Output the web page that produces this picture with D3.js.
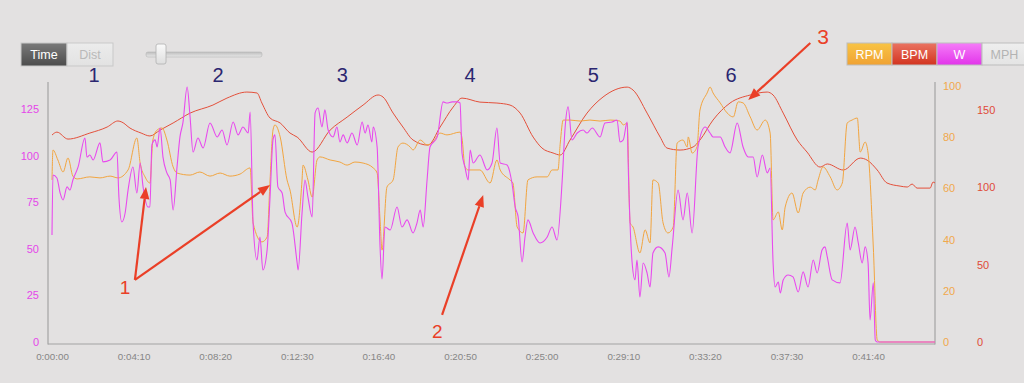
<!DOCTYPE html>
<html><head><meta charset="utf-8">
<script src="https://cdn.jsdelivr.net/npm/d3@7"></script>
<style>
html,body{margin:0;padding:0;background:#e3e1e1;}
svg{display:block;font-family:"Liberation Sans",Arial,Helvetica,sans-serif;}
</style></head><body>
<svg id="c" width="1024" height="383"></svg>
<script>
// ---- data ----
const xTickValues = [0,250,500,750,1000,1250,1500,1750,2000,2250,2500];
const xTickLabels = ["0:00:00","0:04:10","0:08:20","0:12:30","0:16:40","0:20:50","0:25:00","0:29:10","0:33:20","0:37:30","0:41:40"];
const wTicks = [0,25,50,75,100,125];
const rpmTicks = [0,20,40,60,80,100];
const bpmTicks = [0,50,100,150];
const lapLabels = ["1","2","3","4","5","6"];
const lapTimes = [129,509,889,1281,1658,2080];
const legendLabels = ["RPM","BPM","W","MPH"];
const modeLabels = ["Time","Dist"];

// [seconds, bpm]
const bpmSeries = [[0,133.8],[15,135.7],[49,131.2],[116,135.1],[169,139.0],[202,142.9],[214,142.2],[239,138.3],[273,135.1],[300,133.2],[331,137.0],[371,141.6],[423,148.0],[493,153.2],[536,157.7],[597,161.6],[628,161.0],[643,154.5],[668,144.8],[699,141.6],[729,135.1],[751,132.5],[797,122.8],[852,137.0],[904,145.4],[953,153.2],[999,159.7],[1014,158.4],[1045,148.0],[1075,139.0],[1106,130.6],[1152,127.3],[1189,139.0],[1229,151.9],[1256,157.7],[1311,155.1],[1363,154.5],[1403,153.2],[1434,148.0],[1474,132.5],[1501,125.4],[1535,122.2],[1557,120.9],[1587,130.6],[1639,148.0],[1688,158.4],[1762,164.8],[1780,162.9],[1823,148.0],[1863,132.5],[1884,125.4],[1924,124.1],[1964,126.1],[1985,130.6],[2025,143.5],[2077,154.5],[2139,159.7],[2191,161.6],[2209,159.7],[2240,148.0],[2283,130.6],[2313,122.8],[2353,113.1],[2375,115.1],[2424,111.2],[2476,118.9],[2497,117.6],[2528,111.2],[2558,102.8],[2598,100.8],[2620,100.2],[2635,102.1],[2650,99.5],[2690,99.5],[2699,103.4],[2705,102.8]];

// [seconds, rpm]
const rpmSeries = [[0,63.3],[3,75.0],[18,71.1],[34,66.4],[49,71.9],[64,64.8],[77,63.7],[116,64.5],[147,64.1],[178,64.8],[202,64.1],[233,67.2],[260,79.7],[270,69.9],[285,64.5],[300,62.1],[309,78.9],[322,82.8],[337,83.6],[352,78.9],[371,68.4],[383,66.0],[423,65.2],[453,66.4],[484,64.8],[515,66.0],[545,64.8],[576,65.6],[607,68.0],[616,46.5],[643,39.1],[659,41.0],[668,63.3],[677,82.8],[683,84.8],[699,80.1],[720,63.3],[729,59.4],[751,44.9],[766,63.3],[769,69.1],[784,63.3],[797,56.6],[812,71.1],[821,72.3],[852,71.1],[882,70.3],[904,69.1],[928,70.3],[953,69.9],[984,68.0],[996,66.0],[1005,47.7],[1011,35.9],[1026,60.5],[1045,63.3],[1060,76.2],[1075,77.7],[1097,76.2],[1106,75.0],[1128,78.9],[1149,77.0],[1167,78.1],[1189,81.6],[1210,80.9],[1250,82.0],[1256,79.7],[1265,68.4],[1275,67.2],[1311,67.2],[1342,62.1],[1363,71.1],[1373,67.2],[1403,63.3],[1412,62.1],[1425,44.9],[1443,42.6],[1458,63.3],[1486,64.5],[1517,64.5],[1532,67.2],[1550,67.2],[1557,77.7],[1566,86.7],[1587,86.7],[1618,86.3],[1648,86.7],[1679,86.3],[1710,86.7],[1740,86.3],[1750,84.8],[1762,85.5],[1771,46.5],[1780,44.9],[1801,34.8],[1817,43.8],[1832,38.7],[1841,63.3],[1857,62.1],[1872,46.5],[1887,42.6],[1903,44.9],[1915,77.7],[1933,78.9],[1946,76.2],[1949,80.1],[1961,73.8],[1976,76.2],[1985,90.6],[2007,97.3],[2016,99.6],[2025,97.3],[2047,93.4],[2068,89.5],[2087,87.9],[2102,93.8],[2117,93.4],[2139,87.9],[2160,82.8],[2185,86.7],[2200,81.6],[2209,47.7],[2225,50.8],[2237,43.8],[2246,52.7],[2267,58.2],[2286,50.4],[2301,58.2],[2323,60.5],[2338,59.4],[2347,63.3],[2362,68.4],[2384,64.5],[2405,59.4],[2421,62.1],[2436,85.5],[2451,86.7],[2467,87.5],[2476,74.2],[2491,78.1],[2500,73.8],[2516,37.1],[2528,0.8],[2537,0],[2705,0]];

// [seconds, watts]
const wSeries = [[0,57.4],[3,89.6],[15,88.0],[25,79.9],[34,76.2],[46,83.2],[55,81.5],[64,86.9],[80,93.9],[101,109.4],[107,99.2],[116,100.3],[126,97.6],[147,106.8],[156,96.6],[178,97.6],[199,101.9],[205,77.8],[214,64.4],[224,69.2],[233,81.5],[248,93.9],[260,79.9],[270,96.0],[279,83.2],[294,72.4],[300,72.4],[306,105.7],[316,108.4],[322,104.6],[331,114.8],[340,99.2],[352,90.7],[362,86.9],[371,70.8],[383,93.9],[392,110.0],[401,117.5],[414,136.8],[423,120.7],[432,101.9],[447,109.4],[463,104.1],[484,117.5],[506,110.0],[521,113.7],[536,105.7],[555,118.0],[570,111.1],[585,115.3],[601,112.1],[607,123.4],[616,63.8],[628,44.0],[637,56.3],[646,38.6],[659,49.4],[668,77.8],[677,108.4],[683,111.1],[692,83.2],[705,79.9],[714,69.7],[735,63.8],[751,42.4],[754,38.6],[766,69.2],[775,86.9],[784,77.8],[797,67.1],[806,122.9],[815,125.5],[827,115.3],[836,124.5],[846,113.7],[861,110.0],[873,115.3],[882,107.3],[892,111.1],[904,106.8],[919,112.1],[935,105.7],[950,118.0],[959,112.1],[968,116.4],[980,107.3],[984,115.3],[996,104.6],[1005,51.0],[1011,33.8],[1020,61.7],[1036,60.1],[1057,72.4],[1072,61.7],[1088,65.5],[1106,58.5],[1118,63.8],[1128,70.8],[1137,61.7],[1149,86.9],[1158,104.6],[1180,110.0],[1198,128.8],[1210,128.2],[1226,128.8],[1241,128.8],[1250,128.2],[1256,101.4],[1265,93.9],[1275,86.9],[1281,103.0],[1290,96.0],[1311,100.3],[1333,92.3],[1348,96.0],[1363,114.8],[1373,96.0],[1394,95.0],[1409,85.3],[1419,72.4],[1428,67.1],[1440,42.9],[1449,56.3],[1458,65.5],[1474,58.5],[1495,53.1],[1517,56.3],[1532,61.7],[1547,54.7],[1563,86.9],[1572,115.3],[1581,126.1],[1593,108.4],[1609,112.1],[1627,113.7],[1639,112.1],[1655,114.8],[1679,110.0],[1694,117.5],[1716,118.0],[1731,119.1],[1740,107.3],[1750,108.4],[1762,118.0],[1765,96.0],[1777,42.9],[1786,33.3],[1792,44.0],[1801,24.1],[1811,42.4],[1823,37.0],[1832,29.5],[1841,47.7],[1857,51.0],[1878,47.7],[1890,34.9],[1900,51.0],[1918,81.5],[1933,65.5],[1946,79.9],[1961,58.5],[1979,104.6],[2001,115.3],[2016,112.1],[2025,110.0],[2047,110.0],[2062,104.6],[2077,101.4],[2099,117.5],[2117,104.6],[2133,99.2],[2148,99.2],[2160,88.5],[2176,100.3],[2191,90.7],[2200,93.3],[2209,42.4],[2215,29.5],[2225,32.2],[2231,26.3],[2240,33.3],[2255,35.9],[2270,34.9],[2286,26.8],[2301,37.6],[2316,29.5],[2332,44.0],[2344,37.0],[2359,49.4],[2368,51.0],[2375,45.6],[2390,33.3],[2414,31.7],[2436,63.8],[2445,49.4],[2460,61.7],[2470,53.1],[2482,42.4],[2491,51.0],[2500,42.4],[2506,11.8],[2516,31.7],[2522,1.1],[2528,0],[2705,0]];

// annotations in data units (seconds, watts): label position, arrow start, arrow tips
const noteLabels = ["1","2","3"];
const notePos = [[224,29.5],[1180,5.4],[2362,164]];
const noteArrows = [
  [[254,33.3],[288,83.2]],
  [[254,33.3],[668,84.2]],
  [[1195,14.5],[1321,78.9]],
  [[2323,160.4],[2133,129.8]]
];

// ---- drawing ----
const svg = d3.select("#c");
const W = 1024, H = 383;
const x = d3.scaleLinear().domain([0,2705]).range([52,935]);
const yW = d3.scaleLinear().domain([0,140]).range([342,81]);
const yR = d3.scaleLinear().domain([0,100]).range([342,86]);
const yB = d3.scaleLinear().domain([0,150]).range([342,110]);

const cW = "#e84aee", cR = "#f2a540", cB = "#e4503b";

svg.append("rect").attr("width",W).attr("height",H).attr("fill","#e3e1e1");

const defs = svg.append("defs");
function grad(id, c1, c2){
  const g = defs.append("linearGradient").attr("id",id).attr("x1",0).attr("y1",0).attr("x2",0).attr("y2",1);
  g.append("stop").attr("offset","0%").attr("stop-color",c1);
  g.append("stop").attr("offset","100%").attr("stop-color",c2);
}
grad("gTime","#7a7a7a","#4c4c4c");
grad("gDist","#ececec","#e2e2e2");
grad("gRPM","#f8c445","#f0a233");
grad("gBPM","#ea7462","#d2331f");
grad("gW","#f57cf8","#e234ea");
grad("gMPH","#eeeeee","#e4e4e4");
grad("gThumb","#fafafa","#dedede");
grad("gTrack","#bdbdbd","#e8e8e8");

// frame
const frame = svg.append("g").attr("stroke","#a3a3a3").attr("stroke-width",1.2).attr("fill","none");
frame.append("line").attr("x1",48).attr("x2",48).attr("y1",82).attr("y2",344.5);
frame.append("line").attr("x1",48).attr("x2",935).attr("y1",344).attr("y2",344);
frame.append("line").attr("x1",935).attr("x2",935).attr("y1",82).attr("y2",344.5);

// axes
const gx = svg.append("g").attr("transform","translate(0,344)")
  .call(d3.axisBottom(x).tickValues(xTickValues).tickFormat((d,i)=>xTickLabels[i]).tickSize(0).tickPadding(9));
gx.select(".domain").remove();
gx.selectAll("text").attr("fill","#868686").attr("font-size","9.8px").attr("font-family","Liberation Sans, Arial");

const gyW = svg.append("g").attr("transform","translate(48,0)")
  .call(d3.axisLeft(yW).tickValues(wTicks).tickSize(0).tickPadding(9));
gyW.select(".domain").remove();
gyW.selectAll("text").attr("fill","#e546ea").attr("font-size","11px").attr("font-family","Liberation Sans, Arial");

const gyR = svg.append("g").attr("transform","translate(935,0)")
  .call(d3.axisRight(yR).tickValues(rpmTicks).tickSize(0).tickPadding(8));
gyR.select(".domain").remove();
gyR.selectAll("text").attr("fill","#f1a84c").attr("font-size","11px").attr("font-family","Liberation Sans, Arial");

const gyB = svg.append("g").attr("transform","translate(935,0)")
  .call(d3.axisRight(yB).tickValues(bpmTicks).tickSize(0).tickPadding(42));
gyB.select(".domain").remove();
gyB.selectAll("text").attr("fill","#e04a38").attr("font-size","11px").attr("font-family","Liberation Sans, Arial");

// lines
const lineB = d3.line().x(d=>x(d[0])).y(d=>yB(d[1])).curve(d3.curveMonotoneX);
const lineR = d3.line().x(d=>x(d[0])).y(d=>yR(d[1])).curve(d3.curveMonotoneX);
const lineW = d3.line().x(d=>x(d[0])).y(d=>yW(d[1])).curve(d3.curveMonotoneX);
svg.append("path").datum(bpmSeries).attr("d",lineB).attr("fill","none").attr("stroke",cB).attr("stroke-width",1);
svg.append("path").datum(rpmSeries).attr("d",lineR).attr("fill","none").attr("stroke",cR).attr("stroke-width",1);
svg.append("path").datum(wSeries).attr("d",lineW).attr("fill","none").attr("stroke",cW).attr("stroke-width",1.1);

// lap numbers
svg.append("g").selectAll("text").data(lapLabels).join("text")
  .attr("x",(d,i)=>x(lapTimes[i])).attr("y",82)
  .attr("text-anchor","middle").attr("font-size","20px").attr("fill","#2b2670")
  .text(d=>d);

// annotations
const aCol = "#ea3f27";
const ann = svg.append("g");
noteArrows.forEach(([s,e])=>{
  const x1 = x(s[0]), y1 = yW(s[1]), x2 = x(e[0]), y2 = yW(e[1]);
  const ang = Math.atan2(y2-y1, x2-x1), L = 12, Wd = 4.8;
  const bx = x2 - L*Math.cos(ang), by = y2 - L*Math.sin(ang);
  ann.append("line").attr("x1",x1).attr("y1",y1).attr("x2",bx).attr("y2",by)
    .attr("stroke",aCol).attr("stroke-width",2.2);
  const px = -Math.sin(ang)*Wd, py = Math.cos(ang)*Wd;
  ann.append("path").attr("d",`M${x2},${y2}L${bx+px},${by+py}L${bx-px},${by-py}Z`).attr("fill",aCol);
});
ann.selectAll("text").data(noteLabels).join("text")
  .attr("x",(d,i)=>x(notePos[i][0])).attr("y",(d,i)=>yW(notePos[i][1]))
  .attr("text-anchor","middle").attr("dominant-baseline","central")
  .attr("font-size",(d,i)=> i===2 ? "21px" : "19px").attr("fill",aCol).text(d=>d);

// mode toggle
const modeFills = ["url(#gTime)","url(#gDist)"], modeText = ["#ffffff","#b9b9b9"];
const tg = svg.append("g");
modeLabels.forEach((m,i)=>{
  tg.append("rect").attr("x",21+i*46).attr("y",43).attr("width",46).attr("height",23)
    .attr("fill",modeFills[i]).attr("stroke","#c9c9c9").attr("stroke-width",1);
  tg.append("text").attr("x",44+i*46).attr("y",59).attr("text-anchor","middle")
    .attr("font-size","12.5px").attr("fill",modeText[i]).text(m);
});

// slider
svg.append("rect").attr("x",146).attr("y",52).attr("width",116).attr("height",5).attr("rx",2)
  .attr("fill","url(#gTrack)").attr("stroke","#b5b5b5").attr("stroke-width",0.6);
svg.append("rect").attr("x",156).attr("y",44).attr("width",10).attr("height",20).attr("rx",2)
  .attr("fill","url(#gThumb)").attr("stroke","#b0b0b0").attr("stroke-width",0.8);

// legend buttons
const legFills = ["url(#gRPM)","url(#gBPM)","url(#gW)","url(#gMPH)"];
const legText = ["#ffffff","#ffffff","#ffffff","#b3b3b3"];
const lg = svg.append("g");
legendLabels.forEach((l,i)=>{
  lg.append("rect").attr("x",847+i*45).attr("y",43).attr("width",45).attr("height",22)
    .attr("fill",legFills[i]).attr("stroke","#bdbdbd").attr("stroke-width",1);
  lg.append("text").attr("x",869.5+i*45).attr("y",58.5).attr("text-anchor","middle")
    .attr("font-size","12.5px").attr("fill",legText[i]).text(l);
});
</script>
</body></html>
